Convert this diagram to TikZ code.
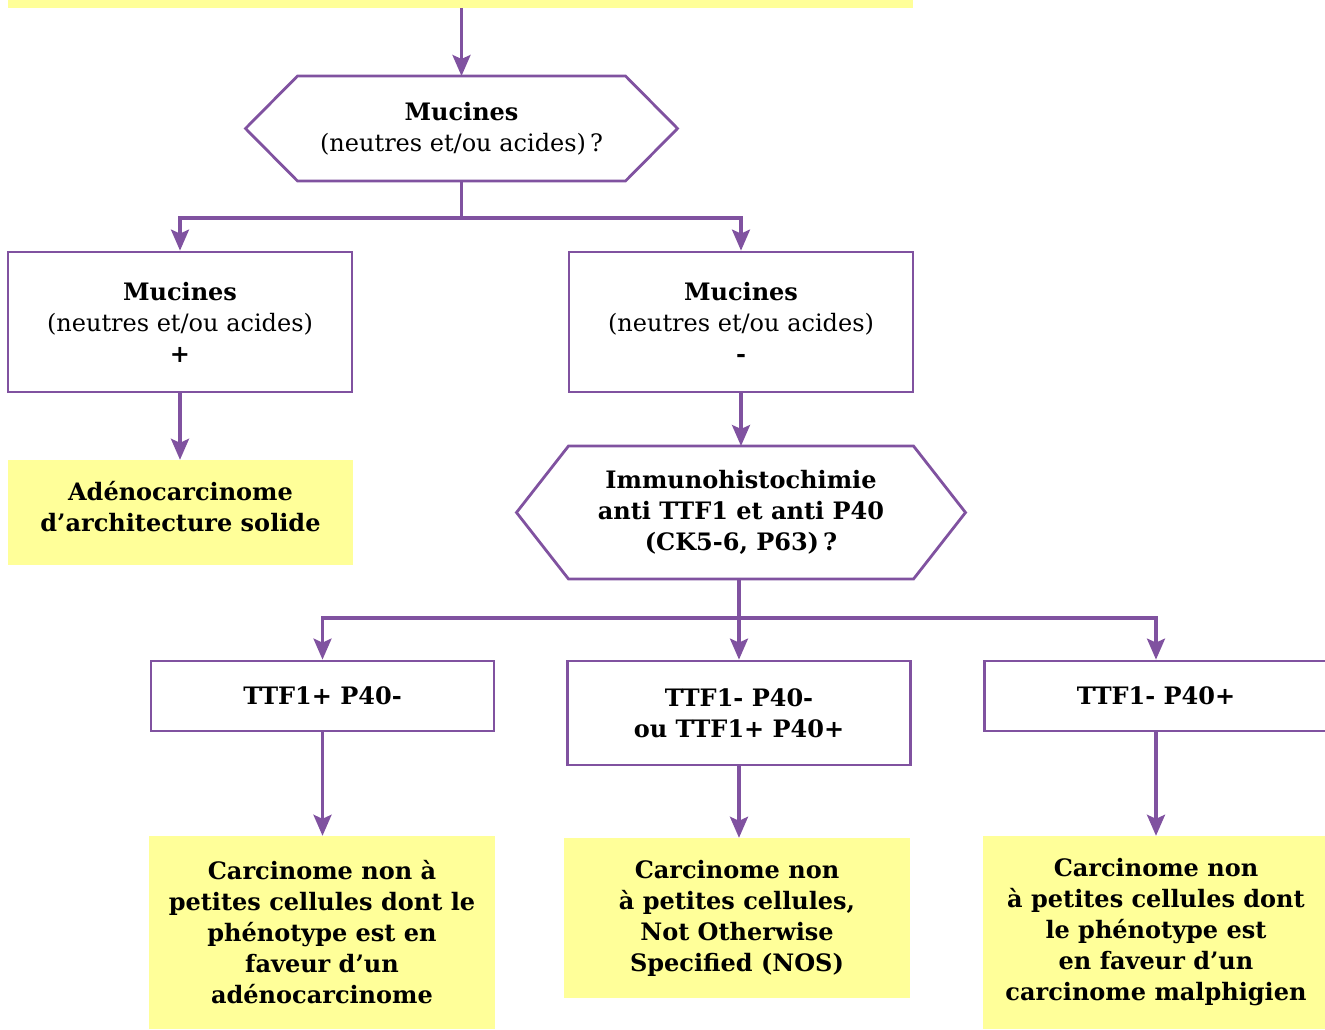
\documentclass[tikz,border=0pt]{standalone}
\usepackage{fontspec}
\setmainfont{DejaVu Serif}
\usepackage{tikz}
\usetikzlibrary{arrows.meta}

\definecolor{vio}{RGB}{128,82,160}
\definecolor{jaune}{RGB}{255,255,153}
\newcommand{\txt}{\fontsize{24}{31}\selectfont}

\begin{document}
\begin{tikzpicture}[x=1pt, y=-1pt,
    box/.style={draw=vio, line width=2.8pt, fill=white, minimum width=344pt, align=center, inner sep=0pt, font=\txt},
    res/.style={fill=jaune, minimum width=346pt, align=center, inner sep=0pt, font=\txt\bfseries},
    hexa/.style={minimum width=345pt, align=center, inner sep=0pt, outer sep=0pt, font=\txt},
    hexline/.style={draw=vio, line width=2.8pt},
    arr/.style={draw=vio, line width=3.3pt, -{Stealth[length=21pt,width=18pt,inset=4pt]}}]

            \useasboundingbox (0,0) rectangle (1325,1029);
            \clip (0,0) rectangle (1325,1029);

            % top of the chart (cut off)
            \node (top) [res, minimum width=905pt, minimum height=68pt] at (460.5,-26) {};

            \node (h1) [hexa, minimum width=328pt, minimum height=105pt] at (461.5,128.5)
                {\textbf{Mucines}\\(neutres et/ou acides)\,?};
            \draw[hexline] (h1.north west) -- (h1.north east) -- ([xshift=52pt]h1.east)
                -- (h1.south east) -- (h1.south west) -- ([xshift=-52pt]h1.west) -- cycle;

            \node (L1) [box, minimum height=140pt] at (180,322)
                {\textbf{Mucines}\\(neutres et/ou acides)\\\textbf{+}};
            \node (R1) [box, minimum height=140pt] at (741,322)
                {\textbf{Mucines}\\(neutres et/ou acides)\\\textbf{-}};
            \node (A) [res, minimum width=345pt, minimum height=105pt, text depth=12pt] at (180.5,512.5)
                {Adénocarcinome\\d’architecture solide};

            \node (h2) [hexa, font=\txt\bfseries, minimum width=345pt, minimum height=133pt] at (741,512.5)
                {Immunohistochimie\\anti TTF1 et anti P40\\(CK5-6, P63)\,?};
            \draw[hexline] (h2.north west) -- (h2.north east) -- ([xshift=52pt]h2.east)
                -- (h2.south east) -- (h2.south west) -- ([xshift=-52pt]h2.west) -- cycle;

            \begin{scope}[box/.append style={font=\txt\bfseries, minimum width=343pt}]
              \node (T1) [box, minimum height=70pt] at (322.5,696) {TTF1+ P40-};
              \node (T2) [box, minimum height=104pt] at (739,713) {TTF1- P40-\\ou TTF1+ P40+};
              \node (T3) [box, minimum height=70pt] at (1156,696) {TTF1- P40+};
            \end{scope}

            \node (Y1) [res, minimum height=193pt] at (322,932.5)
                {Carcinome non à\\petites cellules dont le\\phénotype est en\\faveur d’un\\adénocarcinome};
            \node (Y2) [res, minimum height=160pt] at (737,918)
                {Carcinome non\\à petites cellules,\\Not Otherwise\\Specified (NOS)};
            \node (Y3) [res, minimum height=193pt] at (1156,932.5)
                {Carcinome non\\à petites cellules dont\\le phénotype est\\en faveur d’un\\carcinome malphigien};

            \coordinate (k1) at (461.5,218);
            \coordinate (k2) at (739,618);

            \draw[arr] (h1.north |- top.south) -- (h1.north);
            \draw[arr] (h1.south) -- (k1) -| (L1.north);
            \draw[arr] (k1) -| (R1.north);
            \draw[arr] (L1.south) -- (L1.south |- A.north);
            \draw[arr] (R1) -- (h2);
            \draw[arr] (h2.south -| k2) -- (k2) -| (T1.north);
            \draw[arr] (k2) -- (T2.north);
            \draw[arr] (k2) -| (T3.north);
            \draw[arr] (T1.south) -- (T1.south |- Y1.north);
            \draw[arr] (T2) -- (T2.south |- Y2.north);
            \draw[arr] (T3) -- (Y3);
        \end{tikzpicture}
\end{document}
